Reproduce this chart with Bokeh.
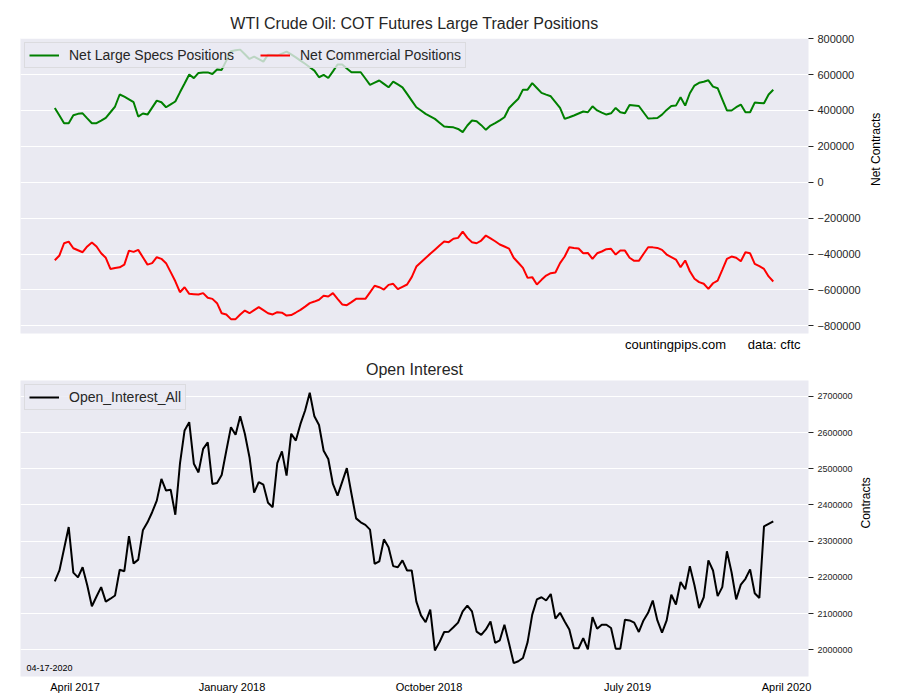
import math
from bokeh.plotting import figure
from bokeh.models import (Range1d, FixedTicker, CustomJSTickFormatter, Label,
                          Legend, LegendItem, Title)
from bokeh.layouts import column
from bokeh.embed import file_html
from bokeh.resources import INLINE

# ---------------- data (weekly COT readings, thousands of contracts) -------------
net_large_specs_k = [
    414, 372, 329, 329, 373, 381, 384, 356, 329, 329,
    343, 359, 390, 422, 489, 477, 462, 446, 366, 383,
    377, 416, 455, 446, 418, 434, 450, 501, 550, 600,
    580, 609, 611, 612, 603, 628, 626, 678, 730, 736,
    739, 713, 687, 700, 686, 672, 711, 709, 706, 717,
    728, 712, 696, 678, 660, 641, 622, 585, 598, 581,
    618, 656, 656, 634, 613, 613, 613, 578, 543, 555,
    567, 548, 529, 561, 545, 529, 492, 455, 418, 400,
    381, 367, 353, 332, 310, 308, 306, 297, 279, 316,
    344, 340, 318, 292, 316, 329, 345, 362, 414, 440,
    465, 516, 516, 552, 525, 498, 488, 479, 447, 414,
    353, 362, 372, 383, 394, 390, 423, 400, 388, 377,
    384, 414, 390, 385, 431, 428, 425, 390, 355, 356,
    358, 377, 403, 425, 427, 474, 427, 496, 539, 554,
    560, 568, 533, 524, 462, 400, 400, 418, 433, 390,
    390, 444, 442, 440, 489, 515,
]

net_commercial_k = [
    -435, -408, -340, -331, -368, -379, -390, -358, -336, -358,
    -396, -421, -483, -478, -474, -459, -381, -388, -377, -418,
    -459, -451, -418, -427, -451, -501, -552, -613, -585, -622,
    -624, -626, -618, -644, -650, -674, -730, -737, -763, -763,
    -737, -715, -730, -713, -696, -713, -730, -737, -724, -727,
    -743, -740, -726, -711, -693, -674, -665, -655, -633, -637,
    -618, -650, -681, -685, -668, -650, -650, -650, -614, -577,
    -585, -598, -572, -566, -596, -583, -570, -529, -470, -446,
    -422, -399, -376, -353, -330, -334, -315, -310, -275, -310,
    -334, -340, -325, -297, -313, -329, -347, -358, -370, -421,
    -449, -477, -533, -529, -570, -544, -520, -507, -503, -451,
    -414, -362, -366, -369, -396, -394, -427, -396, -386, -373,
    -371, -403, -381, -381, -421, -438, -438, -400, -362, -363,
    -366, -377, -403, -417, -431, -474, -436, -496, -538, -557,
    -566, -594, -563, -548, -488, -427, -414, -421, -440, -390,
    -396, -455, -468, -483, -525, -553,
]

open_interest_k = [
    2189, 2219, 2279, 2339, 2213, 2200, 2228, 2178, 2120, 2147,
    2173, 2133, 2141, 2150, 2221, 2217, 2314, 2238, 2249, 2330,
    2352, 2380, 2412, 2472, 2440, 2442, 2373, 2514, 2606, 2629,
    2514, 2490, 2555, 2573, 2458, 2461, 2483, 2550, 2615, 2594,
    2645, 2597, 2532, 2434, 2463, 2456, 2406, 2394, 2516, 2548,
    2481, 2597, 2578, 2624, 2661, 2710, 2645, 2621, 2550, 2527,
    2458, 2426, 2464, 2502, 2431, 2363, 2352, 2345, 2332, 2237,
    2244, 2305, 2283, 2231, 2228, 2247, 2219, 2219, 2133, 2095,
    2076, 2111, 1998, 2021, 2049, 2050, 2062, 2075, 2106, 2122,
    2106, 2050, 2041, 2056, 2078, 2019, 2026, 2069, 2017, 1963,
    1968, 1977, 2021, 2097, 2139, 2145, 2136, 2154, 2086, 2102,
    2078, 2056, 2004, 2004, 2032, 2001, 2090, 2058, 2069, 2069,
    2060, 2003, 2003, 2083, 2081, 2075, 2049, 2081, 2102, 2136,
    2081, 2047, 2081, 2152, 2125, 2187, 2167, 2231, 2178, 2115,
    2145, 2247, 2219, 2148, 2173, 2272, 2214, 2139, 2180, 2196,
    2222, 2156, 2143, 2341, 2348, 2355,
]

x_tick_labels = ["April 2017", "January 2018", "October 2018", "July 2019", "April 2020"]
x_tick_weeks = [4.36, 38.23, 80.73, 123.56, 157.86]

top_y_ticks = [-800000, -600000, -400000, -200000, 0, 200000, 400000, 600000, 800000]
oi_y_ticks = [2000000, 2100000, 2200000, 2300000, 2400000, 2500000, 2600000, 2700000]

weeks = list(range(len(open_interest_k)))
net_large_specs = [v * 1000 for v in net_large_specs_k]
net_commercial = [v * 1000 for v in net_commercial_k]
open_interest = [v * 1000 for v in open_interest_k]

FONT = "Liberation Sans"
TXT = "#262626"
BG = "#EAEAF2"

minus_fmt = CustomJSTickFormatter(
    code="return (tick < 0 ? '\\u2212' : '') + Math.abs(tick).toFixed(0);")


def style_common(p):
    p.outline_line_color = None
    p.background_fill_color = BG
    p.border_fill_color = "white"
    p.xgrid.visible = False
    p.ygrid.grid_line_color = "white"
    p.ygrid.grid_line_width = 1
    p.title.text_font = FONT
    p.title.text_font_style = "normal"
    p.title.text_color = TXT
    p.title.align = "center"
    for ax in p.yaxis:
        ax.axis_line_color = None
        ax.major_tick_in = 0
        ax.major_tick_out = 5
        ax.major_tick_line_color = TXT
        ax.minor_tick_line_color = None
        ax.major_label_text_font = FONT
        ax.major_label_text_color = TXT
        ax.major_label_standoff = 4
        ax.axis_label_text_font = FONT
        ax.axis_label_text_font_style = "normal"
        ax.axis_label_text_color = "black"
        ax.axis_label_text_font_size = "12px"
        ax.axis_label_orientation = math.pi / 2


# ---------------- top panel ----------------
p1 = figure(frame_width=788, frame_height=295, output_backend="svg",
            toolbar_location=None, y_axis_location="right",
            x_range=Range1d(-7.4, 162.6), y_range=Range1d(-843000, 801000),
            min_border_left=20, min_border_right=84, min_border_top=38,
            min_border_bottom=22,
            title="WTI Crude Oil: COT Futures Large Trader Positions")
style_common(p1)
p1.title.text_font_size = "16px"
p1.title.standoff = 13
p1.xaxis.visible = False
p1.yaxis.ticker = FixedTicker(ticks=top_y_ticks)
p1.ygrid.ticker = FixedTicker(ticks=top_y_ticks)
p1.yaxis.formatter = minus_fmt
p1.yaxis.major_label_text_font_size = "11px"
p1.yaxis.axis_label = "Net Contracts"
p1.yaxis.axis_label_standoff = 12

r_spec = p1.line(weeks, net_large_specs, line_color="#008000", line_width=2)
r_comm = p1.line(weeks, net_commercial, line_color="#FF0000", line_width=2)

leg1 = Legend(items=[LegendItem(label="Net Large Specs Positions", renderers=[r_spec]),
                     LegendItem(label="Net Commercial Positions", renderers=[r_comm])],
              location="top_left", orientation="horizontal",
              label_text_font=FONT, label_text_font_size="14px", label_text_color=TXT,
              glyph_width=30, glyph_height=16, label_standoff=10, spacing=26,
              padding=4, margin=4, background_fill_color=BG, background_fill_alpha=0.8,
              border_line_color="#CCCCCC", border_line_width=1)
p1.add_layout(leg1)

source_note = Title(text="countingpips.com" + "\u00a0" * 6 + "data: cftc",
                    align="right", offset=8, standoff=3,
                    text_font=FONT, text_font_size="13px", text_font_style="normal",
                    text_color="black")
p1.add_layout(source_note, "below")

# ---------------- bottom panel ----------------
p2 = figure(frame_width=788, frame_height=296, output_backend="svg",
            toolbar_location=None, y_axis_location="right",
            x_range=p1.x_range, y_range=Range1d(1926000, 2744000),
            min_border_left=20, min_border_right=84, min_border_top=25,
            min_border_bottom=15, title="Open Interest")
style_common(p2)
p2.title.text_font_size = "16px"
p2.title.standoff = 6
p2.yaxis.ticker = FixedTicker(ticks=oi_y_ticks)
p2.ygrid.ticker = FixedTicker(ticks=oi_y_ticks)
p2.yaxis.formatter = minus_fmt
p2.yaxis.major_label_text_font_size = "9px"
p2.yaxis.axis_label = "Contracts"
p2.yaxis.axis_label_standoff = 10

p2.xaxis.ticker = FixedTicker(ticks=x_tick_weeks)
p2.xaxis.formatter = CustomJSTickFormatter(args=dict(labels=x_tick_labels),
                                           code="return labels[index];")
p2.xaxis.axis_line_color = None
p2.xaxis.major_tick_line_color = None
p2.xaxis.minor_tick_line_color = None
p2.xaxis.major_tick_in = 0
p2.xaxis.major_tick_out = 0
p2.xaxis.major_label_text_font = FONT
p2.xaxis.major_label_text_font_size = "11px"
p2.xaxis.major_label_text_color = "black"
p2.xaxis.major_label_standoff = 4

r_oi = p2.line(weeks, open_interest, line_color="black", line_width=2)
leg2 = Legend(items=[LegendItem(label="Open_Interest_All", renderers=[r_oi])],
              location="top_left", orientation="horizontal",
              label_text_font=FONT, label_text_font_size="14px", label_text_color=TXT,
              glyph_width=30, glyph_height=16, label_standoff=10,
              padding=4, margin=4, background_fill_color=BG, background_fill_alpha=0.8,
              border_line_color="#CCCCCC", border_line_width=1)
p2.add_layout(leg2)

p2.add_layout(Label(x=6, y=9, x_units="screen", y_units="screen",
                    text="04-17-2020", text_align="left", text_baseline="middle",
                    text_font=FONT, text_font_size="9px", text_color="black"))

layout = column(p1, p2, spacing=0)
open("out.html", "w").write(file_html(layout, INLINE))
